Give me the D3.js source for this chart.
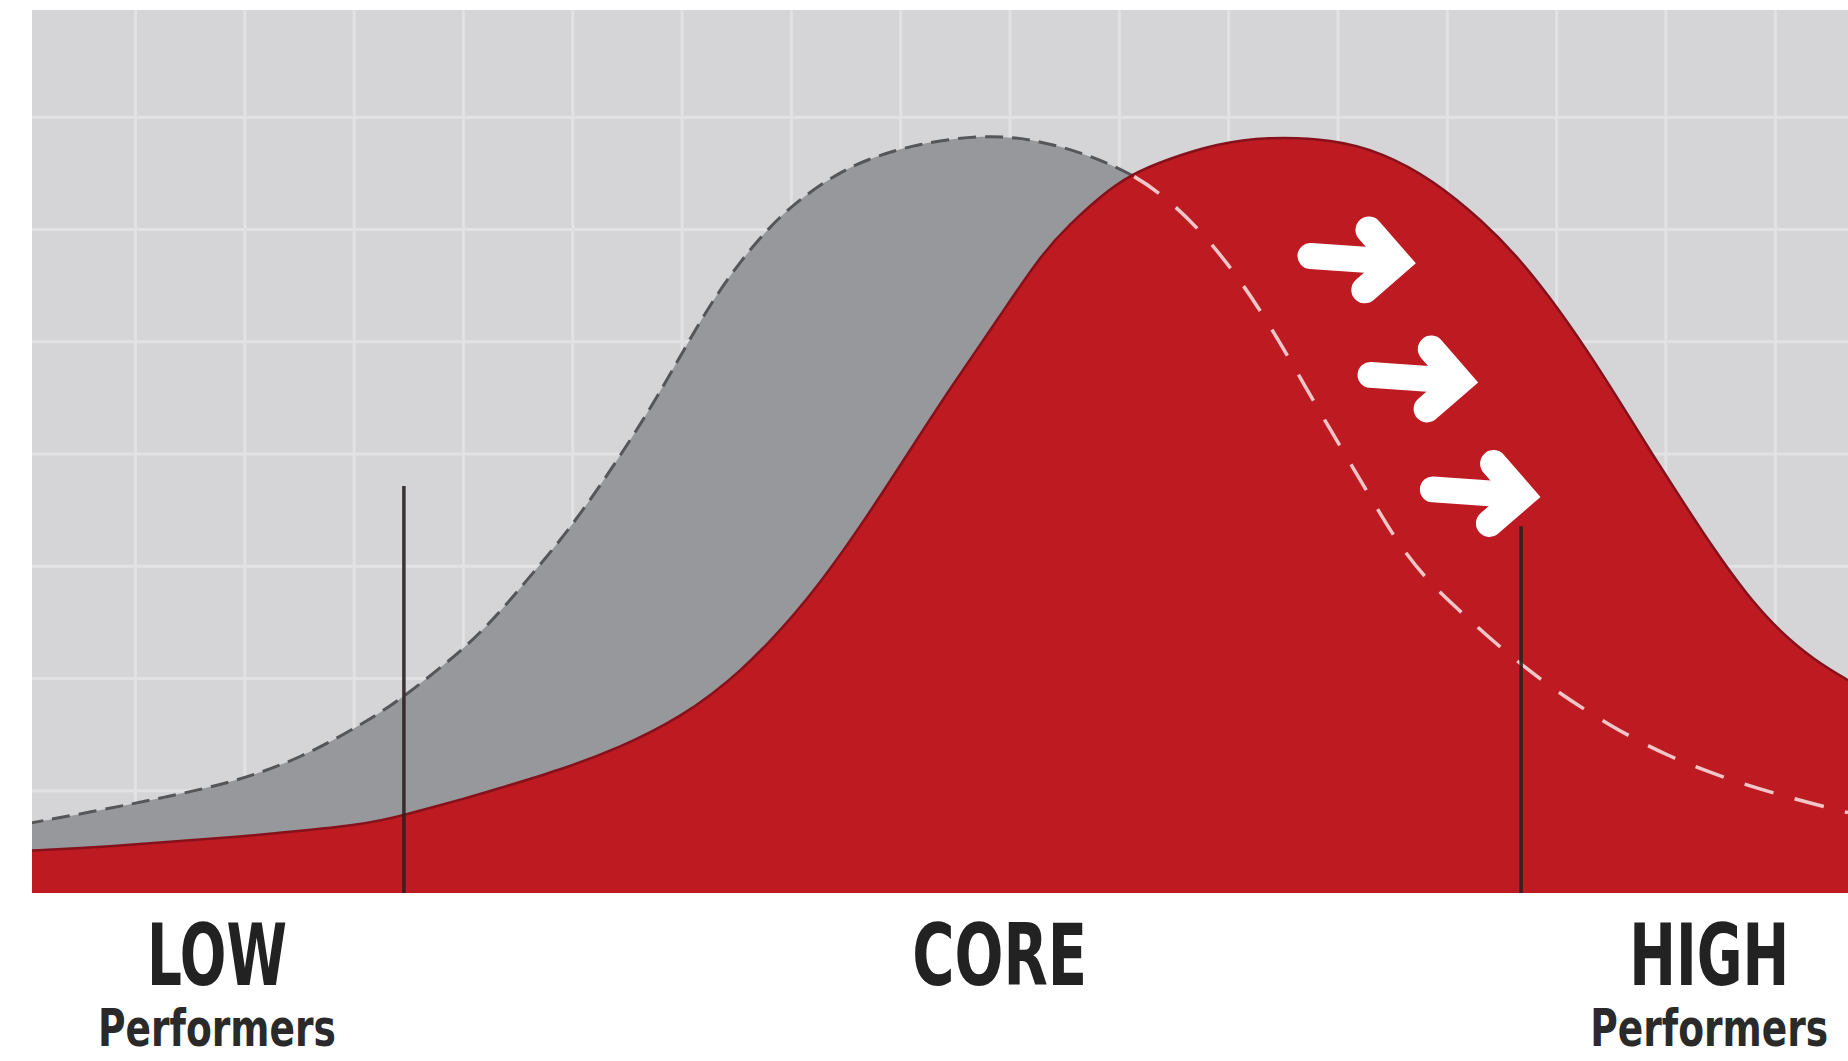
<!DOCTYPE html>
<html>
<head>
<meta charset="utf-8">
<script src="https://cdn.jsdelivr.net/npm/d3@7"></script>
<style>
  html, body { margin: 0; padding: 0; background: #ffffff; overflow: hidden; }
  svg { display: block; }
</style>
</head>
<body>
<svg id="chart" width="1848" height="1061"></svg>
<script>
// ---- Data (performance on the x axis, share of people on the y axis, both in grid units) ----
const gridX = [1, 2, 3, 4, 5, 6, 7, 8, 9, 10, 11, 12, 13, 14, 15, 16];
const gridY = [1, 2, 3, 4, 5, 6, 7];

// Current distribution (grey, dashed outline)
const currentCurve = [
  [0.00, 0.70], [0.68, 0.82], [1.29, 0.94], [1.90, 1.07], [2.51, 1.28],
  [3.12, 1.61], [3.46, 1.83], [4.04, 2.28], [4.34, 2.59], [4.55, 2.83],
  [4.95, 3.29], [5.34, 3.83], [5.71, 4.39], [5.98, 4.85], [6.23, 5.28],
  [6.53, 5.71], [6.93, 6.16], [7.38, 6.47], [7.69, 6.62], [8.15, 6.76],
  [8.77, 6.84], [9.21, 6.80], [9.67, 6.68], [10.10, 6.50], [10.38, 6.32],
  [10.74, 6.00], [11.11, 5.55], [11.42, 5.08], [11.72, 4.57], [11.99, 4.12],
  [12.29, 3.63], [12.55, 3.20], [12.82, 2.87], [13.08, 2.63], [13.51, 2.25],
  [13.97, 1.90], [14.48, 1.58], [15.00, 1.31], [15.56, 1.10], [16.14, 0.93],
  [16.67, 0.80]
];

// Shifted distribution (red)
const shiftedCurve = [
  [0.00, 0.46], [0.68, 0.49], [1.90, 0.58], [3.12, 0.69], [3.46, 0.78],
  [4.04, 0.93], [4.34, 1.02], [4.89, 1.18], [5.44, 1.38], [5.98, 1.64],
  [6.53, 2.03], [7.17, 2.70], [7.70, 3.44], [8.15, 4.12], [8.45, 4.57],
  [8.91, 5.22], [9.28, 5.76], [9.55, 6.04], [9.83, 6.29],
  [10.10, 6.48], [10.44, 6.62], [10.90, 6.76], [11.35, 6.82], [11.96, 6.80],
  [12.41, 6.68], [12.87, 6.44], [13.33, 6.07], [13.67, 5.73], [14.03, 5.28],
  [14.37, 4.79], [14.64, 4.37], [14.90, 3.96], [15.16, 3.57], [15.42, 3.18],
  [15.75, 2.73], [16.05, 2.41], [16.36, 2.16], [16.67, 1.98]
];

// Performance bands
const bandLabels = ["LOW", "CORE", "HIGH"];
const bandSubLabels = ["Performers", "", "Performers"];
const bandCentres = [1.75, 8.91, 15.40];
const bandEdges = [3.46, 13.68];
const bandEdgeTops = [3.71, 3.35];

// Shift arrows: tail, tip and height
const arrowTails = [11.66, 12.21, 12.78];
const arrowTips = [12.69, 13.26, 13.83];
const arrowLevels = [5.73, 4.67, 3.65];

// ---- Layout ----
const plot = { left: 32, top: 10, right: 1848, bottom: 893 };
const svg = d3.select("#chart");

const x = d3.scaleLinear().domain([0.058, 16.67]).range([plot.left, plot.right]);
const y = d3.scaleLinear().domain([0.084, 7.95]).range([plot.bottom, plot.top]);

const defs = svg.append("defs");
defs.append("clipPath").attr("id", "plot-clip")
  .append("rect")
  .attr("x", plot.left).attr("y", plot.top)
  .attr("width", plot.right - plot.left).attr("height", plot.bottom - plot.top);

// background panel
svg.append("rect")
  .attr("x", plot.left).attr("y", plot.top)
  .attr("width", plot.right - plot.left).attr("height", plot.bottom - plot.top)
  .attr("fill", "#d5d5d8");

// grid
const grid = svg.append("g").attr("clip-path", "url(#plot-clip)");
grid.append("g")
  .attr("transform", `translate(0,${plot.top})`)
  .call(d3.axisBottom(x).tickValues(gridX).tickSize(plot.bottom - plot.top).tickFormat(""))
  .call(g => g.select(".domain").remove())
  .selectAll("line").attr("stroke", "#e2e2e5").attr("stroke-width", 3);
grid.append("g")
  .attr("transform", `translate(${plot.left},0)`)
  .call(d3.axisRight(y).tickValues(gridY).tickSize(plot.right - plot.left).tickFormat(""))
  .call(g => g.select(".domain").remove())
  .selectAll("line").attr("stroke", "#e2e2e5").attr("stroke-width", 3);

const area = d3.area()
  .curve(d3.curveBasis)
  .x(d => x(d[0]))
  .y0(plot.bottom)
  .y1(d => y(d[1]));
const line = d3.line()
  .curve(d3.curveBasis)
  .x(d => x(d[0]))
  .y(d => y(d[1]));

const marks = svg.append("g").attr("clip-path", "url(#plot-clip)");

// current distribution
marks.append("path")
  .attr("d", area(currentCurve))
  .attr("fill", "#97989c");
marks.append("path")
  .attr("d", line(currentCurve))
  .attr("fill", "none")
  .attr("stroke", "#55565a")
  .attr("stroke-width", 3)
  .attr("stroke-dasharray", "18,9");

// shifted distribution
defs.append("clipPath").attr("id", "shift-clip")
  .append("path").attr("d", area(shiftedCurve));

marks.append("path")
  .attr("d", area(shiftedCurve))
  .attr("fill", "#bd1a21");
marks.append("path")
  .attr("d", line(shiftedCurve))
  .attr("fill", "none")
  .attr("stroke", "#86111a")
  .attr("stroke-width", 2.5);

// old outline showing through the red shape
marks.append("g").attr("clip-path", "url(#shift-clip)")
  .append("path")
  .attr("d", line(currentCurve))
  .attr("fill", "none")
  .attr("stroke", "#f1c6c8")
  .attr("stroke-width", 3.5)
  .attr("stroke-dasharray", "30,22")
  .attr("stroke-dashoffset", 6);

// band dividers
marks.selectAll("line.divider")
  .data(bandEdges)
  .join("line")
  .attr("class", "divider")
  .attr("x1", d => x(d)).attr("x2", d => x(d))
  .attr("y1", (d, i) => y(bandEdgeTops[i]))
  .attr("y2", plot.bottom)
  .attr("stroke", "#2a2020")
  .attr("stroke-opacity", 0.9)
  .attr("stroke-width", 3.5);

// shift arrows
const arrows = marks.selectAll("g.arrow")
  .data(arrowTails.map((t, i) => ({ tail: t, tip: arrowTips[i], level: arrowLevels[i] })))
  .join("g")
  .attr("class", "arrow")
  .attr("transform", d => {
    const cx = (x(d.tail) + x(d.tip)) / 2;
    return `rotate(4,${cx},${y(d.level)})`;
  });
arrows.append("path")
  .attr("d", d => {
    const x0 = x(d.tail) + 10, x1 = x(d.tip) - 26, yy = y(d.level);
    return `M${x0},${yy}L${x1},${yy}`;
  })
  .attr("stroke", "#ffffff")
  .attr("stroke-width", 26)
  .attr("stroke-linecap", "round")
  .attr("fill", "none");
arrows.append("path")
  .attr("d", d => {
    const v = x(d.tip) - 16, yy = y(d.level);
    return `M${v - 30},${yy - 30}L${v},${yy}L${v - 30},${yy + 30}`;
  })
  .attr("stroke", "#ffffff")
  .attr("stroke-width", 27)
  .attr("stroke-linejoin", "miter")
  .attr("stroke-linecap", "round")
  .attr("fill", "none");

// band labels: condensed to a set width with a horizontal scale
const font = "'Liberation Sans Narrow', 'DejaVu Sans Condensed', 'Roboto', sans-serif";
function fitText(sel, width, baseline, cx) {
  sel.each(function (d, i) {
    const node = this;
    const natural = node.getComputedTextLength();
    const w = typeof width === "function" ? width(d, i) : width;
    const sx = natural > 0 ? w / natural : 1;
    d3.select(node).attr("transform", `translate(${cx(d, i)},${baseline}) scale(${sx},1)`);
  });
}

const mainWidths = [140, 175, 160];
svg.selectAll("text.band")
  .data(bandLabels)
  .join("text")
  .attr("class", "band")
  .attr("text-anchor", "middle")
  .attr("font-family", font)
  .attr("font-weight", "bold")
  .attr("font-size", 85)
  .attr("fill", "#222222")
  .text(d => d)
  .call(fitText, (d, i) => mainWidths[i], 985, (d, i) => x(bandCentres[i]));

svg.selectAll("text.sub")
  .data(bandSubLabels.map((s, i) => ({ s, i })).filter(d => d.s))
  .join("text")
  .attr("class", "sub")
  .attr("text-anchor", "middle")
  .attr("font-family", font)
  .attr("font-weight", "bold")
  .attr("font-size", 52)
  .attr("fill", "#2a2a2a")
  .text(d => d.s)
  .call(fitText, 238, 1046, d => x(bandCentres[d.i]));
</script>
</body>
</html>
